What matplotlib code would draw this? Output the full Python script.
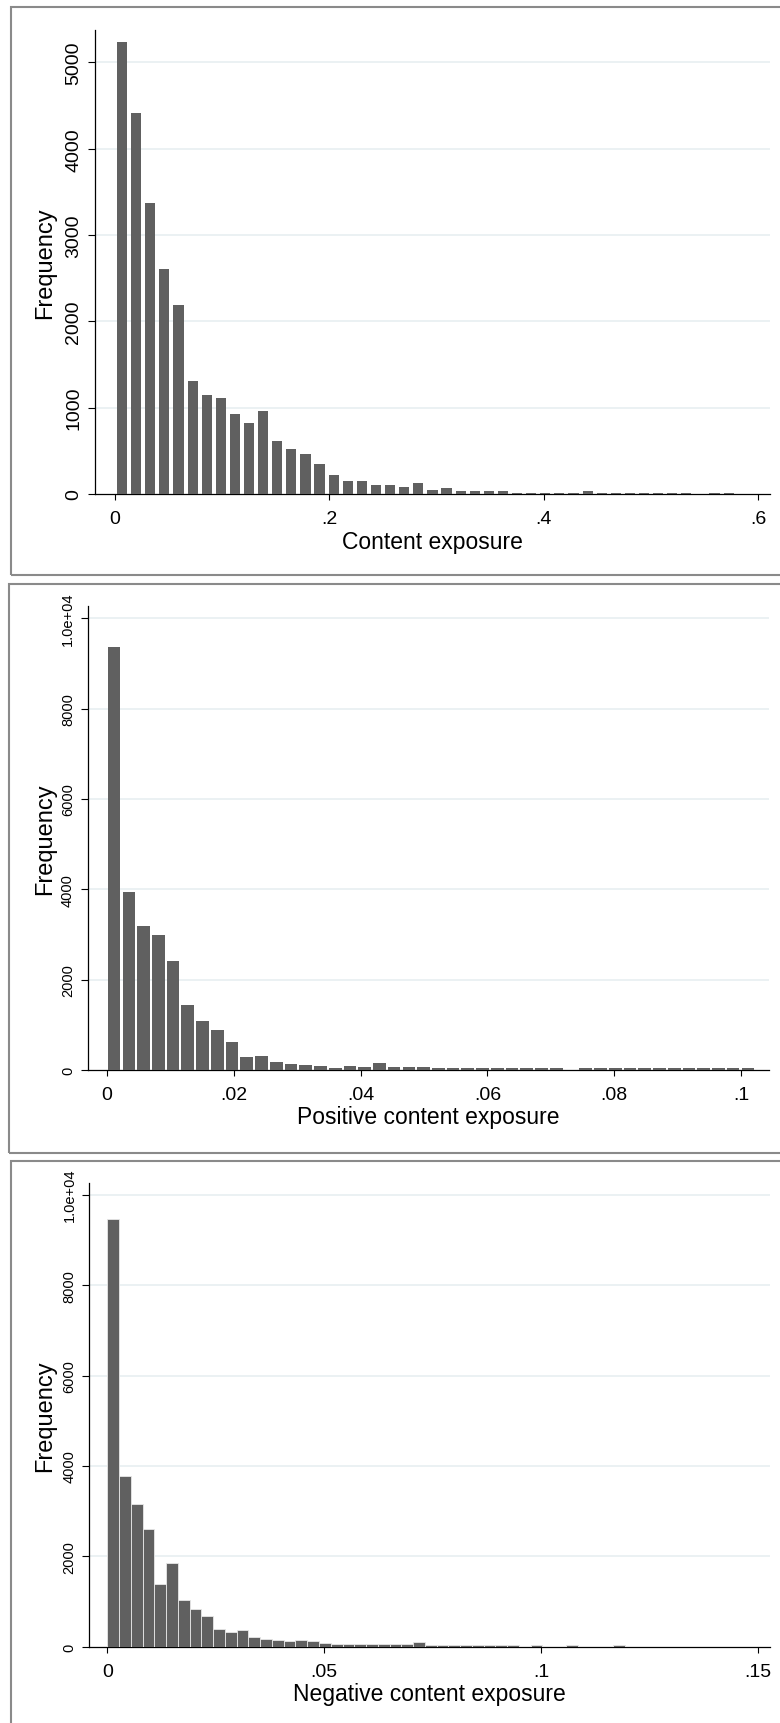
"""Histograms of content exposure measures, stacked in three framed panels."""
import numpy as np
import matplotlib
matplotlib.use("Agg")
import matplotlib.pyplot as plt
from matplotlib.patches import Rectangle

plt.rcParams["font.family"] = ["Liberation Sans", "DejaVu Sans"]

# ── data: bin counts per variable (44 equal-width bins starting at 0) ─────────
content_width = 0.01316
content_counts = [5241, 4411, 3368, 2607, 2194, 1313, 1151, 1109, 923, 823,
                  966, 610, 525, 467, 344, 224, 154, 154, 108, 108,
                  77, 127, 50, 66, 35, 35, 35, 35, 15, 15,
                  15, 15, 15, 35, 15, 15, 15, 15, 15, 15,
                  15, 0, 15, 15]

positive_width = 0.002323
positive_counts = [9372, 3947, 3195, 2981, 2420, 1439, 1085, 893, 613, 281,
                   303, 170, 140, 111, 89, 44, 89, 66, 165, 66,
                   66, 66, 40, 40, 40, 40, 40, 40, 40, 40,
                   40, 0, 40, 40, 40, 40, 40, 40, 40, 40,
                   40, 40, 40, 40]

negative_width = 0.00271
negative_counts = [9462, 3783, 3150, 2597, 1394, 1845, 1026, 827, 686, 398,
                   318, 369, 207, 170, 148, 126, 148, 126, 89, 59,
                   60, 60, 60, 60, 60, 60, 97, 44, 44, 44,
                   44, 44, 44, 44, 44, 0, 31, 0, 0, 31,
                   0, 0, 0, 31]

content_xticks = [0, 0.2, 0.4, 0.6]
content_xlabels = ["0", ".2", ".4", ".6"]
content_yticks = [0, 1000, 2000, 3000, 4000, 5000]
content_ylabels = ["0", "1000", "2000", "3000", "4000", "5000"]

positive_xticks = [0, 0.02, 0.04, 0.06, 0.08, 0.1]
positive_xlabels = ["0", ".02", ".04", ".06", ".08", ".1"]
negative_xticks = [0, 0.05, 0.1, 0.15]
negative_xlabels = ["0", ".05", ".1", ".15"]
freq_yticks = [0, 2000, 4000, 6000, 8000, 10000]
freq_ylabels = ["0", "2000", "4000", "6000", "8000", "1.0e+04"]

W, H = 780, 1724
BAR = "#606060"
GRID = "#e6eef0"
FRAME = "#8a8a8a"

fig = plt.figure(figsize=(W / 100, H / 100), dpi=100)
fig.patch.set_facecolor("white")

# panel frames (pixel boxes: left, top, bottom); right side runs off the page
for left, top, bottom in [(11, 8, 576), (9, 585, 1154), (11, 1162, 1740)]:
    fig.patches.append(Rectangle((left / W, 1 - bottom / H), (800 - left) / W,
                                 (bottom - top) / H, transform=fig.transFigure,
                                 fill=False, edgecolor=FRAME, lw=1.5))


def px_axes(left, top, right, bottom):
    return fig.add_axes([left / W, 1 - bottom / H, (right - left) / W, (bottom - top) / H])


def hist_panel(ax, counts, width, frac, xlim, ylim, xticks, xlabels,
               yticks, ylabels, xlabel, ysize, edge, label_x, label_y):
    counts = np.asarray(counts, dtype=float)
    lefts = width * np.arange(len(counts))
    ax.bar(lefts + width / 2, counts, width=width * frac, color=BAR,
           edgecolor=edge, linewidth=0.6 if edge != "none" else 0, zorder=3)
    ax.set_xlim(*xlim)
    ax.set_ylim(*ylim)
    for s in ["top", "right"]:
        ax.spines[s].set_visible(False)
    for s in ["left", "bottom"]:
        ax.spines[s].set_linewidth(0.9)
    ax.set_yticks(yticks)
    ax.set_yticklabels(ylabels, rotation=90, va="center", fontsize=ysize)
    ax.set_xticks(xticks)
    ax.set_xticklabels(xlabels, fontsize=14)
    ax.tick_params(axis="y", length=5.2, width=0.8, pad=4)
    ax.tick_params(axis="x", length=4.5, width=0.8, pad=7)
    for y in yticks[1:]:
        ax.axhline(y, color=GRID, lw=1.1, zorder=1)
    ax.set_xlabel(xlabel, fontsize=16.5, va="top")
    ax.xaxis.set_label_coords(0.5, label_x)
    ax.set_ylabel("Frequency", fontsize=17, va="center")
    ax.yaxis.set_label_coords(label_y, 0.5)


ax1 = px_axes(95, 31, 770, 495)
hist_panel(ax1, content_counts, content_width, 0.72, (-0.01866, 0.611), (0, 5376),
           content_xticks, content_xlabels, content_yticks, content_ylabels,
           "Content exposure", 14, "none", -0.077, -0.074)

ax2 = px_axes(87.7, 607.3, 769.3, 1071)
hist_panel(ax2, positive_counts, positive_width, 0.86, (-0.003, 0.10443), (0, 10265),
           positive_xticks, positive_xlabels, freq_yticks, freq_ylabels,
           "Positive content exposure", 10.5, "none", -0.075, -0.0626)

ax3 = px_axes(89.3, 1184, 770, 1647.7)
hist_panel(ax3, negative_counts, negative_width, 1.0, (-0.00415, 0.1527), (0, 10259),
           negative_xticks, negative_xlabels, freq_yticks, freq_ylabels,
           "Negative content exposure", 10.5, "#e8e8e8", -0.076, -0.065)

fig.savefig("out.png", dpi=100)
